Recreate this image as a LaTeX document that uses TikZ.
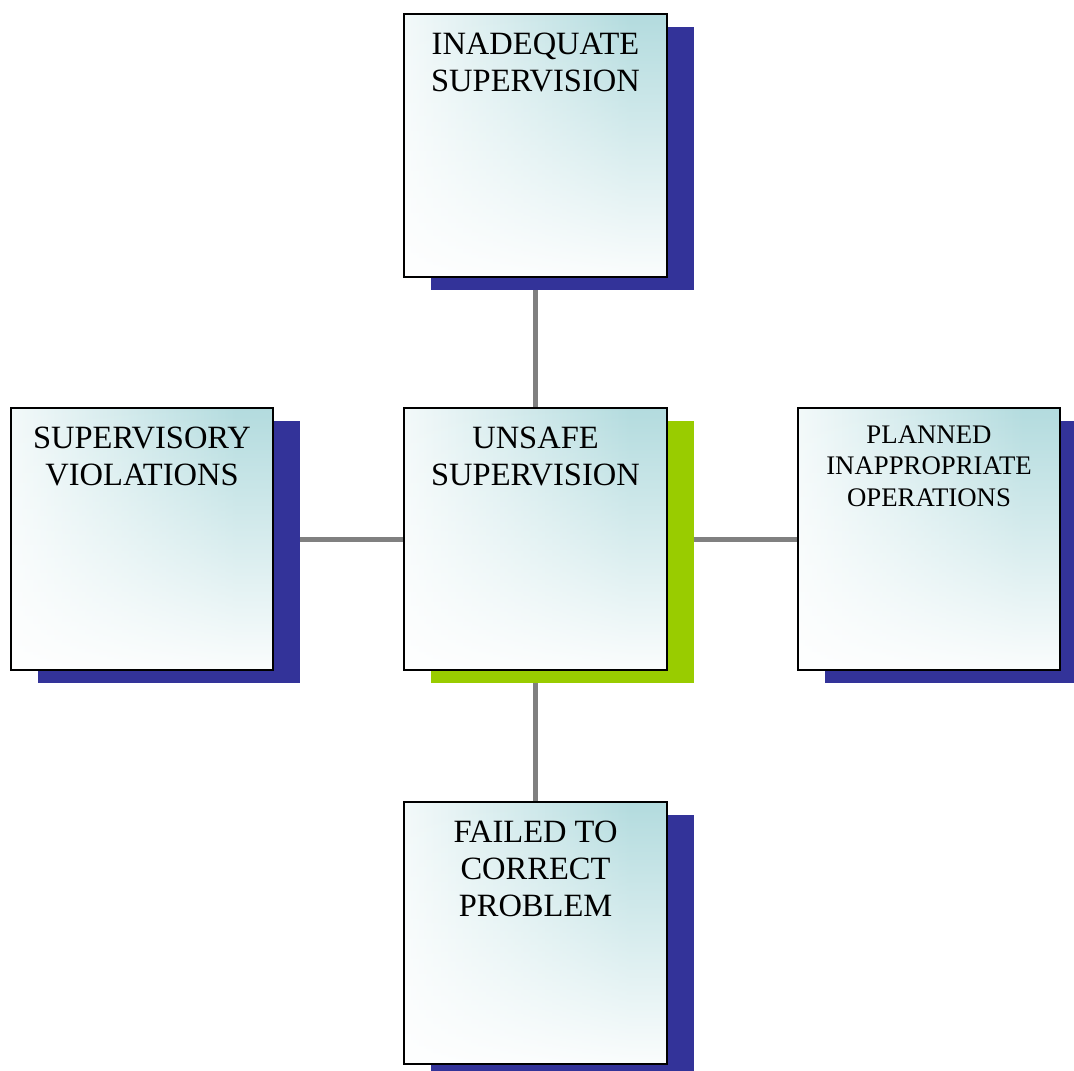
\documentclass[tikz,border=0pt]{standalone}
\usepackage{fontspec}
\setmainfont{Liberation Serif}
\usetikzlibrary{calc,fadings}

\definecolor{boxteal}{RGB}{178,219,222}
\definecolor{shadowblue}{RGB}{51,51,153}
\definecolor{shadowgreen}{RGB}{153,204,0}
\definecolor{linkgray}{RGB}{128,128,128}

% white on the left, teal towards the right
\pgfdeclarehorizontalshading{tealacross}{100bp}{%
  color(0bp)=(white); color(17bp)=(white);
  color(68bp)=(boxteal); color(100bp)=(boxteal)}
% opacity mask: solid at the top, gone near the bottom
\pgfdeclareverticalshading{tealfall}{100bp}{%
  color(0bp)=(black); color(22bp)=(black);
  color(76bp)=(white); color(100bp)=(white)}
\pgfdeclarefading{fadedown}{\pgfuseshading{tealfall}}

\tikzset{
  frame/.style={minimum width=262pt, minimum height=262pt, inner sep=0pt, draw=none},
  link/.style={draw=linkgray, line width=5pt},
  caption/.style={anchor=north, align=center, inner sep=0pt, font=\fontsize{32.5}{37}\selectfont},
  smallcaption/.style={anchor=north, align=center, inner sep=0pt, font=\fontsize{26.8}{31.5}\selectfont},
}

% fill, tint and border of one box
\newcommand{\panel}[1]{%
  \fill[white] (#1.south west) rectangle (#1.north east);
  \shade[shading=tealacross, path fading=fadedown]
    (#1.south west) rectangle (#1.north east);
  \draw[black, line width=2pt] (#1.south west) rectangle (#1.north east);
}
% offset drop shadow of one box
\newcommand{\backing}[2]{%
  \fill[#2] ($(#1.south west)+(27,13)$) rectangle ($(#1.north east)+(27,13)$);
}

\begin{document}
\begin{tikzpicture}[x=1pt, y=-1pt]
  \useasboundingbox (0,0) rectangle (1074,1071);
  \fill[white] (0,0) rectangle (1074,1071);

  % box outlines (painted below)
  \node[frame] (top)    at (535.5,145.5) {};
  \node[frame] (center) at (535.5,539)   {};
  \node[frame] (left)   at (142,539)     {};
  \node[frame] (right)  at (929,539)     {};
  \node[frame] (bottom) at (535.5,933)   {};

  % connectors between the box centres
  \draw[link] (top.center) -- (center.center);
  \draw[link] (center.center) -- (bottom.center);
  \draw[link] (left.center) -- (center.center);
  \draw[link] (center.center) -- (right.center);

  % shadows
  \backing{top}{shadowblue}
  \backing{left}{shadowblue}
  \backing{right}{shadowblue}
  \backing{bottom}{shadowblue}
  \backing{center}{shadowgreen}

  % boxes
  \panel{top}
  \panel{left}
  \panel{right}
  \panel{bottom}
  \panel{center}

  % labels
  \node[caption] (topT) at ($(top.north)+(0,18)$) {INADEQUATE\\SUPERVISION};
  \node[caption] (centerT) at ($(center.north)+(0,18.5)$) {UNSAFE\\SUPERVISION};
  \node[caption] (leftT) at ($(left.north)+(0,18.5)$) {SUPERVISORY\\VIOLATIONS};
  \node[smallcaption] (rightT) at ($(right.north)+(0,17.5)$) {PLANNED\\INAPPROPRIATE\\OPERATIONS};
  \node[caption] (bottomT) at ($(bottom.north)+(0,18.5)$) {FAILED TO\\CORRECT\\PROBLEM};
\end{tikzpicture}
\end{document}
